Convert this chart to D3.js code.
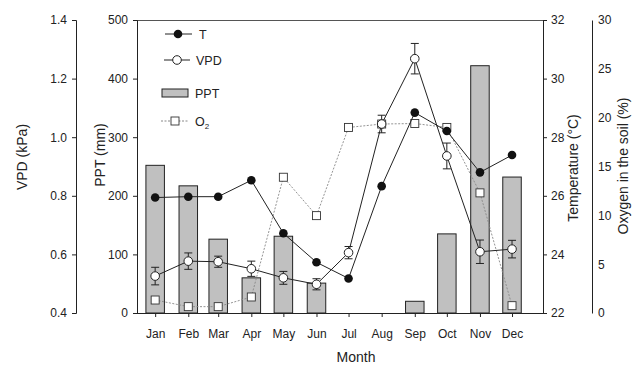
<!DOCTYPE html>
<html><head><meta charset="utf-8">
<script src="https://cdn.jsdelivr.net/npm/d3@7"></script>
<style>body{margin:0;background:#fff}svg{display:block;font-family:"Liberation Sans",Arial,sans-serif}</style>
</head><body><svg id="c" width="635" height="366"></svg>
<script>
const months = ["Jan","Feb","Mar","Apr","May","Jun","Jul","Aug","Sep","Oct","Nov","Dec"];
const ppt = [252,217,126,60,131,51,0,0,20,135,422,232];
const temp = [25.94,25.97,25.97,26.53,24.72,23.73,23.18,26.33,28.84,28.21,26.80,27.39];
const vpd = [0.526,0.577,0.575,0.551,0.520,0.498,0.606,1.045,1.268,0.936,0.609,0.618];
const vpdErr = [0.030,0.028,0.019,0.026,0.022,0.019,0.021,0.030,0.052,0.044,0.040,0.030];
const o2 = [1.33,0.65,0.65,1.64,13.9,9.97,19.0,19.35,19.4,19.0,12.3,0.75];
const vpdTicks = [0.4,0.6,0.8,1.0,1.2,1.4];
const pptTicks = [0,100,200,300,400,500];
const tempTicks = [22,24,26,28,30,32];
const o2Ticks = [0,5,10,15,20,25,30];

const svg = d3.select("#c");
const yTop = 20, yBot = 313, L = 137, R = 543;
const dates = months.map((m,i)=>new Date(2010,i,15));
const x = d3.scaleTime().domain([new Date(2009,11,29), new Date(2011,0,13)]).range([L,R]);
const yP = d3.scaleLinear().domain([0,500]).range([yBot,yTop]);
const yV = d3.scaleLinear().domain([0.4,1.4]).range([yBot,yTop]);
const yT = d3.scaleLinear().domain([22,32]).range([yBot,yTop]);
const yO = d3.scaleLinear().domain([0,30]).range([yBot,yTop]);
const ink = "#222";

// bars
const bw = 18.5;
svg.append("g").selectAll("rect").data(ppt).join("rect")
  .attr("x",(d,i)=>x(dates[i])-bw/2).attr("width",bw)
  .attr("y",d=>yP(d)).attr("height",d=>yBot-yP(d))
  .attr("fill","#c0c0c0").attr("stroke",ink).attr("stroke-width",1)
  .attr("display",d=>d>0?null:"none");

// frame
svg.append("line").attr("x1",L).attr("x2",R).attr("y1",yTop+0.5).attr("y2",yTop+0.5).attr("stroke","#555");
svg.append("line").attr("x1",R+0.5).attr("x2",R+0.5).attr("y1",yTop).attr("y2",yBot).attr("stroke","#555");

function styleAxis(g){
  g.selectAll("path").attr("stroke",ink);
  g.selectAll("line").attr("stroke",ink);
  g.selectAll("text").attr("fill","#222").style("font-size","12px");
  g.attr("font-family",null);
}
const fmt1 = d3.format(".1f");
svg.append("g").attr("transform",`translate(76,0)`)
  .call(d3.axisLeft(yV).tickValues(vpdTicks).tickFormat(fmt1).tickSizeOuter(0).tickSize(4).tickPadding(5)).call(styleAxis);
svg.append("g").attr("transform",`translate(${L},0)`)
  .call(d3.axisLeft(yP).tickValues(pptTicks).tickSizeOuter(0).tickSize(4).tickPadding(5)).call(styleAxis);
svg.append("g").attr("transform",`translate(${R},0)`)
  .call(d3.axisRight(yT).tickValues(tempTicks).tickSizeOuter(0).tickSize(4).tickPadding(4)).call(styleAxis);
svg.append("g").attr("transform",`translate(592,0)`)
  .call(d3.axisRight(yO).tickValues(o2Ticks).tickSizeOuter(0).tickSize(0).tickPadding(6)).call(styleAxis);
const xa = svg.append("g").attr("transform",`translate(0,${yBot})`)
  .call(d3.axisBottom(x).tickValues(dates).tickFormat((d,i)=>months[i]).tickSizeOuter(0).tickSize(4).tickPadding(12)).call(styleAxis);
xa.select("path").attr("d",`M${L},0.5H${R}`);

// axis titles
const title = (t,xx,yy,rot)=>svg.append("text").attr("transform",`translate(${xx},${yy})${rot?" rotate(-90)":""}`)
  .attr("text-anchor","middle").style("font-size","14px").attr("fill","#222").text(t);
title("VPD (kPa)",27,157,true);
title("PPT (mm)",105,155,true);
title("Temperature (°C)",578,168,true);
title("Month",356,362,false);
title("Oxygen in the soil (%)",628,166,true);

// O2 series
const lineO = d3.line().x((d,i)=>x(dates[i])).y(d=>yO(d));
svg.append("path").attr("d",lineO(o2)).attr("fill","none").attr("stroke","#888").attr("stroke-width",0.9).attr("stroke-dasharray","2,1.5");
svg.append("g").selectAll("rect").data(o2).join("rect")
  .attr("x",(d,i)=>x(dates[i])-4).attr("y",d=>yO(d)-4).attr("width",8).attr("height",8)
  .attr("fill","#fff").attr("stroke","#333").attr("stroke-width",0.9);

// VPD series
const lineV = d3.line().x((d,i)=>x(dates[i])).y(d=>yV(d));
svg.append("path").attr("d",lineV(vpd)).attr("fill","none").attr("stroke",ink).attr("stroke-width",1);
const eg = svg.append("g").attr("stroke",ink).attr("stroke-width",1);
vpd.forEach((v,i)=>{
  const cx = x(dates[i]), y1 = yV(v+vpdErr[i]), y2 = yV(v-vpdErr[i]);
  eg.append("line").attr("x1",cx).attr("x2",cx).attr("y1",y1).attr("y2",y2);
  eg.append("line").attr("x1",cx-4).attr("x2",cx+4).attr("y1",y1).attr("y2",y1);
  eg.append("line").attr("x1",cx-4).attr("x2",cx+4).attr("y1",y2).attr("y2",y2);
});
svg.append("g").selectAll("circle").data(vpd).join("circle")
  .attr("cx",(d,i)=>x(dates[i])).attr("cy",d=>yV(d)).attr("r",4.3)
  .attr("fill","#fff").attr("stroke",ink).attr("stroke-width",1);

// T series
const lineT = d3.line().x((d,i)=>x(dates[i])).y(d=>yT(d));
svg.append("path").attr("d",lineT(temp)).attr("fill","none").attr("stroke",ink).attr("stroke-width",1);
svg.append("g").selectAll("circle").data(temp).join("circle")
  .attr("cx",(d,i)=>x(dates[i])).attr("cy",d=>yT(d)).attr("r",4.3).attr("fill","#111");

// legend
const lg = svg.append("g").style("font-size","12.5px").attr("fill","#222");
lg.append("line").attr("x1",165).attr("x2",192).attr("y1",34).attr("y2",34).attr("stroke",ink);
lg.append("circle").attr("cx",178).attr("cy",34).attr("r",4.3).attr("fill","#111");
lg.append("text").attr("x",199).attr("y",38.5).text("T");
lg.append("line").attr("x1",164).attr("x2",190).attr("y1",60).attr("y2",60).attr("stroke",ink);
lg.append("circle").attr("cx",177).attr("cy",60).attr("r",4.3).attr("fill","#fff").attr("stroke",ink);
lg.append("text").attr("x",196).attr("y",64.5).text("VPD");
lg.append("rect").attr("x",162).attr("y",89).attr("width",26).attr("height",8).attr("fill","#c0c0c0").attr("stroke",ink);
lg.append("text").attr("x",195).attr("y",97.5).text("PPT");
lg.append("line").attr("x1",161).attr("x2",188).attr("y1",121).attr("y2",121).attr("stroke","#888").attr("stroke-dasharray","2,1.5");
lg.append("rect").attr("x",171).attr("y",117).attr("width",8).attr("height",8).attr("fill","#fff").attr("stroke","#333").attr("stroke-width",0.9);
const ot = lg.append("text").attr("x",195).attr("y",125.5).text("O");
ot.append("tspan").attr("dy",3).style("font-size","8px").text("2");
</script></body></html>
